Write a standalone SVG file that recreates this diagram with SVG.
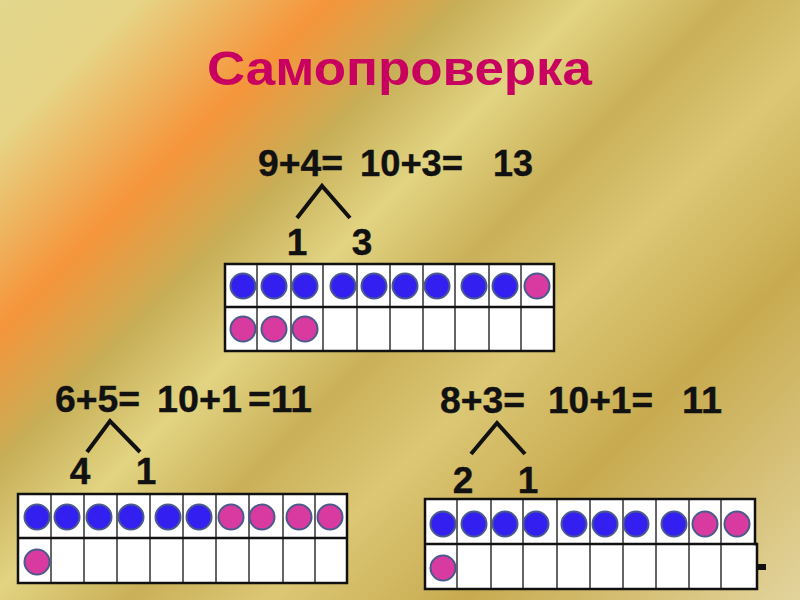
<svg xmlns="http://www.w3.org/2000/svg" width="800" height="600" viewBox="0 0 800 600">
<defs>
<linearGradient id="bg" gradientUnits="userSpaceOnUse" x1="0" y1="0" x2="700" y2="700">
<stop offset="0" stop-color="#e2d78c"/>
<stop offset="0.1" stop-color="#e6d486"/>
<stop offset="0.235" stop-color="#f6953a"/>
<stop offset="0.33" stop-color="#c7ae57"/>
<stop offset="0.42" stop-color="#e2d482"/>
<stop offset="0.52" stop-color="#cab058"/>
<stop offset="0.62" stop-color="#dcc775"/>
<stop offset="0.76" stop-color="#c8ab50"/>
<stop offset="1" stop-color="#e3d49c"/>
</linearGradient>
<style>
.t{font-family:"Liberation Sans",Arial,sans-serif;font-weight:bold;font-size:37px;fill:#111;stroke:#111;stroke-width:0.4}
.title{font-family:"Liberation Sans",Arial,sans-serif;font-weight:bold;font-size:48px;fill:#c8005f}
.v{fill:none;stroke:#111;stroke-width:4}
.cell{fill:#fff;stroke:none}
.grid{fill:none;stroke:#333;stroke-width:1.5}
.frame{fill:none;stroke:#111;stroke-width:2.5}
.b{fill:#3320f0;stroke:#4a5a8c;stroke-width:2}
.p{fill:#d83aa0;stroke:#4a5a8c;stroke-width:2}
</style>
</defs>
<rect width="800" height="600" fill="url(#bg)"/>
<text class="title" x="207" y="85" textLength="385" lengthAdjust="spacingAndGlyphs">Самопроверка</text>

<g id="eq1">
<text class="t" x="258" y="176" textLength="85" lengthAdjust="spacingAndGlyphs">9+4=</text>
<text class="t" x="360" y="176" textLength="103" lengthAdjust="spacingAndGlyphs">10+3=</text>
<text class="t" x="493" y="176" textLength="40" lengthAdjust="spacingAndGlyphs">13</text>
<polyline class="v" points="297,218 322,186 350,218"/>
<text class="t" x="297" y="255" text-anchor="middle">1</text>
<text class="t" x="362" y="255" text-anchor="middle">3</text>
</g>

<g id="grid1">
<rect class="cell" x="225" y="264" width="329" height="87"/>
<path class="grid" d="M257,264V351M291,264V351M323,264V351M357,264V351M390,264V351M423,264V351M455,264V351M489,264V351M521,264V351"/>
<path fill="none" stroke="#111" stroke-width="2.5" d="M225,307H554"/>
<rect class="frame" x="225" y="264" width="329" height="87"/>
<circle class="b" cx="243" cy="286" r="12.5"/>
<circle class="b" cx="274" cy="286" r="12.5"/>
<circle class="b" cx="305" cy="286" r="12.5"/>
<circle class="b" cx="343" cy="286" r="12.5"/>
<circle class="b" cx="374" cy="286" r="12.5"/>
<circle class="b" cx="405" cy="286" r="12.5"/>
<circle class="b" cx="437" cy="286" r="12.5"/>
<circle class="b" cx="474" cy="286" r="12.5"/>
<circle class="b" cx="505" cy="286" r="12.5"/>
<circle class="p" cx="537" cy="286" r="12.5"/>
<circle class="p" cx="243" cy="329" r="12.5"/>
<circle class="p" cx="274" cy="329" r="12.5"/>
<circle class="p" cx="305" cy="329" r="12.5"/>
</g>

<g id="eq2">
<text class="t" x="55" y="412" textLength="85" lengthAdjust="spacingAndGlyphs">6+5=</text>
<text class="t" x="157" y="412" textLength="85" lengthAdjust="spacingAndGlyphs">10+1</text>
<text class="t" x="248" y="412" textLength="64" lengthAdjust="spacingAndGlyphs">=11</text>
<polyline class="v" points="87,452 110,421 140,452"/>
<text class="t" x="80" y="484" text-anchor="middle">4</text>
<text class="t" x="146" y="484" text-anchor="middle">1</text>
</g>

<g id="grid2">
<rect class="cell" x="18" y="494" width="329" height="89"/>
<path class="grid" d="M51,494V583M84,494V583M117,494V583M150,494V583M183,494V583M216,494V583M249,494V583M283,494V583M315,494V583"/>
<path fill="none" stroke="#111" stroke-width="2.5" d="M18,538H347"/>
<rect class="frame" x="18" y="494" width="329" height="89"/>
<circle class="b" cx="37" cy="517" r="12.5"/>
<circle class="b" cx="67" cy="517" r="12.5"/>
<circle class="b" cx="99" cy="517" r="12.5"/>
<circle class="b" cx="131" cy="517" r="12.5"/>
<circle class="b" cx="168" cy="517" r="12.5"/>
<circle class="b" cx="199" cy="517" r="12.5"/>
<circle class="p" cx="231" cy="517" r="12.5"/>
<circle class="p" cx="262" cy="517" r="12.5"/>
<circle class="p" cx="299" cy="517" r="12.5"/>
<circle class="p" cx="330" cy="517" r="12.5"/>
<circle class="p" cx="37" cy="562" r="12.5"/>
</g>

<g id="eq3">
<text class="t" x="440" y="413" textLength="85" lengthAdjust="spacingAndGlyphs">8+3=</text>
<text class="t" x="548" y="413" textLength="105" lengthAdjust="spacingAndGlyphs">10+1=</text>
<text class="t" x="682" y="413" textLength="40" lengthAdjust="spacingAndGlyphs">11</text>
<polyline class="v" points="471,454 497,423 525,454"/>
<text class="t" x="463" y="493" text-anchor="middle">2</text>
<text class="t" x="528" y="493" text-anchor="middle">1</text>
</g>

<g id="grid3">
<path class="cell" d="M425,499H755V544H757V589H425Z"/>
<path class="grid" d="M457,499V589M491,499V589M523,499V589M557,499V589M590,499V589M623,499V589M656,499V589M689,499V589M721,499V589"/>
<path fill="none" stroke="#111" stroke-width="2.5" d="M425,544H757"/>
<path class="frame" d="M425,499H755V544H757V589H425Z"/>
<rect x="757" y="564" width="9" height="6" fill="#111"/>
<circle class="b" cx="443" cy="524" r="12.5"/>
<circle class="b" cx="474" cy="524" r="12.5"/>
<circle class="b" cx="505" cy="524" r="12.5"/>
<circle class="b" cx="536" cy="524" r="12.5"/>
<circle class="b" cx="574" cy="524" r="12.5"/>
<circle class="b" cx="605" cy="524" r="12.5"/>
<circle class="b" cx="636" cy="524" r="12.5"/>
<circle class="b" cx="674" cy="524" r="12.5"/>
<circle class="p" cx="705" cy="524" r="12.5"/>
<circle class="p" cx="737" cy="524" r="12.5"/>
<circle class="p" cx="443" cy="568" r="12.5"/>
</g>
</svg>
